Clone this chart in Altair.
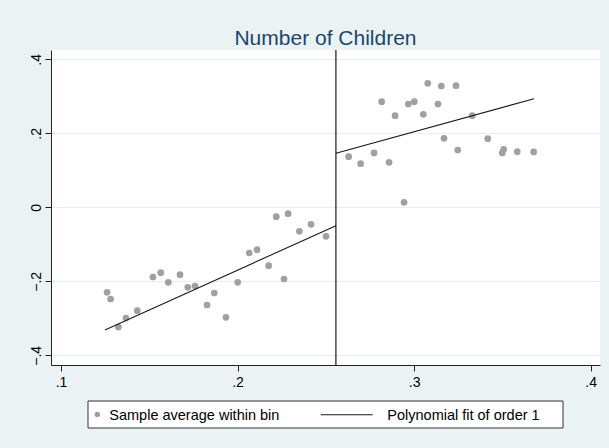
import altair as alt
import pandas as pd

# Binned sample averages (running variable, outcome)
bin_x = [0.1261, 0.1281, 0.1325, 0.1368, 0.1432, 0.1521, 0.1565, 0.1608,
         0.1674, 0.1718, 0.1759, 0.1827, 0.1868, 0.1934, 0.2001, 0.2066,
         0.2110, 0.2176, 0.2219, 0.2263, 0.2286, 0.2350, 0.2416, 0.2501,
         0.2629, 0.2697, 0.2773, 0.2816, 0.2858, 0.2892, 0.2943, 0.2967,
         0.3001, 0.3052, 0.3077, 0.3135, 0.3154, 0.3169, 0.3237, 0.3247,
         0.3329, 0.3417, 0.3499, 0.3507, 0.3584, 0.3677]
bin_y = [-0.2297, -0.2478, -0.3235, -0.2992, -0.2795, -0.1884, -0.1768, -0.2027,
         -0.1822, -0.2162, -0.2127, -0.2641, -0.2316, -0.2973, -0.2027, -0.1235,
         -0.1146, -0.1578, -0.0254, -0.1938, -0.0173, -0.0649, -0.0459, -0.0784,
         0.1368, 0.1178, 0.1468, 0.2854, 0.1216, 0.2476, 0.0135, 0.2792,
         0.2854, 0.2514, 0.3351, 0.2792, 0.3278, 0.1865, 0.3286, 0.1549,
         0.2476, 0.1854, 0.1468, 0.1568, 0.1503, 0.1495]

# Linear fits on each side of the cutoff (endpoints)
fit_side = ["left", "left", "right", "right"]
fit_x = [0.1249, 0.2557, 0.2557, 0.3679]
fit_y = [-0.3316, -0.0497, 0.1459, 0.2935]

cutoff = [0.2557]

x_ticks = [0.1, 0.2, 0.3, 0.4]
y_ticks = [-0.4, -0.2, 0.0, 0.2, 0.4]

legend_labels = ["Sample average within bin", "Polynomial fit of order 1"]

FONT = "Liberation Sans"
W, H = 549, 315

bins = pd.DataFrame({"x": bin_x, "y": bin_y})
fits = pd.DataFrame({"side": fit_side, "x": fit_x, "y": fit_y})
cut = pd.DataFrame({"x": cutoff})
one = pd.DataFrame({"k": [0]})

tick_label = "datum.value == 0 ? '0' : replace(format(datum.value, '.1f'), '0.', '.')"

xscale = alt.Scale(domain=[0.09434, 0.40526], nice=False, zero=False)
yscale = alt.Scale(domain=[-0.4262, 0.4251], nice=False, zero=False)

x_axis = alt.Axis(values=x_ticks, labelExpr=tick_label, title=None, grid=False,
                  domainColor="#222222", tickColor="#222222", tickSize=6,
                  labelFontSize=14, labelFont=FONT, labelColor="#000000",
                  labelPadding=4)
y_axis = alt.Axis(values=y_ticks, labelExpr=tick_label, title=None, grid=True,
                  gridColor="#E6EFEF", gridWidth=1,
                  domainColor="#222222", tickColor="#222222", tickSize=6,
                  labelFontSize=14, labelFont=FONT, labelColor="#000000",
                  labelAngle=270, labelAlign="center", labelBaseline="alphabetic",
                  labelPadding=5)

points = alt.Chart(bins).mark_circle(size=45, color="#A0A0A0", opacity=1).encode(
    x=alt.X("x:Q", scale=xscale, axis=x_axis),
    y=alt.Y("y:Q", scale=yscale, axis=y_axis),
)

lines = alt.Chart(fits).mark_line(color="#1a1a1a", strokeWidth=1.1).encode(
    x="x:Q", y="y:Q", detail="side:N",
)

rule = alt.Chart(cut).mark_rule(color="#000000", strokeWidth=1.1).encode(x="x:Q")

# Legend box drawn beneath the plot area
leg_box = alt.Chart(one).mark_rect(fill="white", stroke="#333333", strokeWidth=1).encode(
    x=alt.value(37), x2=alt.value(512), y=alt.value(351), y2=alt.value(378)
)
leg_dot = alt.Chart(one).mark_circle(size=30, color="#A0A0A0", opacity=1).encode(
    x=alt.value(46.3), y=alt.value(364.5)
)
leg_line = alt.Chart(one).mark_rule(color="#1a1a1a", strokeWidth=1.1).encode(
    x=alt.value(269.7), x2=alt.value(321.7), y=alt.value(364.7)
)
leg_text1 = alt.Chart(one).mark_text(align="left", baseline="alphabetic", fontSize=14.5,
                                     font=FONT, color="#000000").encode(
    x=alt.value(58.3), y=alt.value(370.3), text=alt.value(legend_labels[0])
)
leg_text2 = alt.Chart(one).mark_text(align="left", baseline="alphabetic", fontSize=14.5,
                                     font=FONT, color="#000000").encode(
    x=alt.value(336.3), y=alt.value(370.3), text=alt.value(legend_labels[1])
)

chart = alt.layer(points, lines, rule, leg_box, leg_dot, leg_line, leg_text1, leg_text2).properties(
    width=W, height=H,
    title=alt.TitleParams("Number of Children", fontSize=21, font=FONT, fontWeight="normal",
                          color="#1A476F", anchor="middle", baseline="alphabetic", offset=4,
                          dy=21),
    autosize=alt.AutoSizeParams(type="none"),
    padding={"left": 51, "top": 50, "right": 9, "bottom": 83},
    background="#EAF2F3",
).configure_view(fill="white", stroke=None)

chart.save("out.html", embed_options={"renderer": "svg", "actions": False})
